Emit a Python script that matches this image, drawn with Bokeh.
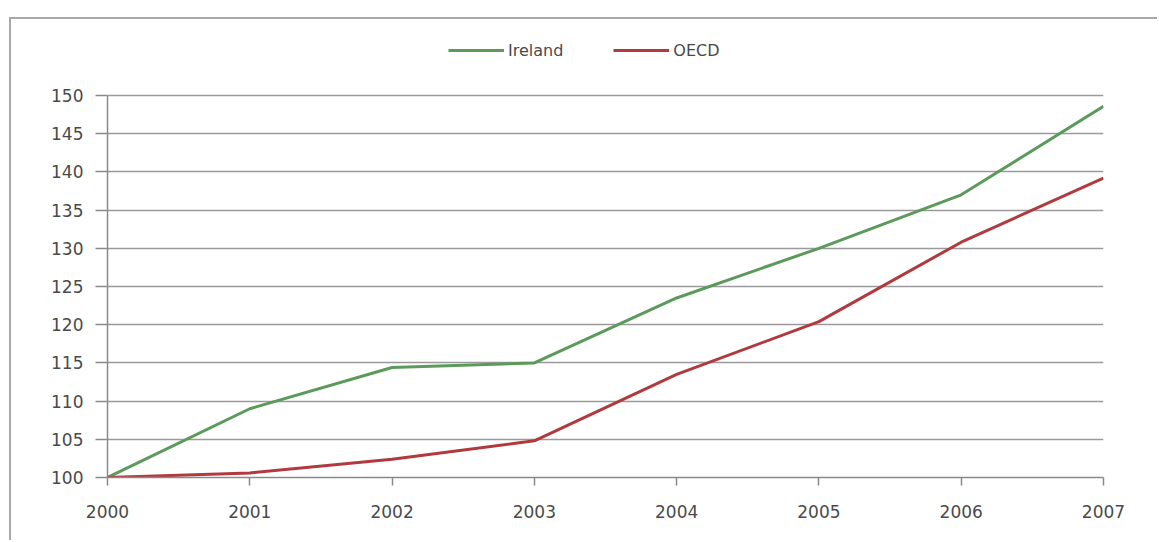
from bokeh.plotting import figure
from bokeh.models import FixedTicker, Legend, LegendItem, Range1d
from bokeh.embed import file_html
from bokeh.resources import INLINE

years = [2000, 2001, 2002, 2003, 2004, 2005, 2006, 2007]
ireland = [100, 109, 114.4, 115, 123.5, 130, 137, 148.6]
oecd = [100, 100.6, 102.4, 104.8, 113.5, 120.4, 130.8, 139.2]
y_ticks = list(range(100, 151, 5))

# canvas starts at window (11, 19) because of the margin + border
y_top = 150 + 71 * (50 / 382)

p = figure(width=1148, height=523, output_backend="svg", toolbar_location=None,
           x_range=Range1d(2000, 2007), y_range=Range1d(100, y_top),
           min_border_left=96, min_border_right=56, min_border_top=5, min_border_bottom=65)
p.styles = {"margin-left": "9px", "margin-top": "17px",
            "border-left": "2px solid #a8a8a8", "border-top": "2px solid #a8a8a8"}
p.outline_line_color = None
p.background_fill_color = "white"
p.border_fill_color = "white"

p.xgrid.visible = False
p.ygrid.grid_line_color = "#9a9a9a"
p.ygrid.grid_line_width = 1.5
p.yaxis.ticker = FixedTicker(ticks=y_ticks)
p.xaxis.ticker = FixedTicker(ticks=years)
p.yaxis.bounds = (100, 150)

for ax in (p.xaxis[0], p.yaxis[0]):
    ax.axis_line_color = "#8a8a8a"
    ax.axis_line_width = 1.5
    ax.major_tick_line_color = "#8a8a8a"
    ax.major_tick_line_width = 1.5
    ax.minor_tick_line_color = None
    ax.major_tick_in = 0
    ax.major_label_text_font = "DejaVu Sans"
    ax.major_label_text_font_size = "17px"
    ax.major_label_text_color = "#4a4a4a"
p.yaxis.major_tick_out = 12
p.yaxis.major_label_standoff = 12
p.xaxis.major_tick_out = 8
p.xaxis.major_label_standoff = 19

r1 = p.line(years, ireland, line_color="#5b9a5b", line_width=3)
r2 = p.line(years, oecd, line_color="#b03a3e", line_width=3)

legend = Legend(items=[LegendItem(label="Ireland", renderers=[r1]),
                       LegendItem(label="OECD", renderers=[r2])],
                orientation="horizontal", location=(341, 417),
                border_line_color=None, background_fill_alpha=0,
                label_text_font="DejaVu Sans", label_text_font_size="16px",
                label_text_color="#4a4a4a", glyph_width=56, spacing=50,
                label_standoff=4, margin=0, padding=0)
p.add_layout(legend)

open("out.html", "w").write(file_html(p, INLINE))
